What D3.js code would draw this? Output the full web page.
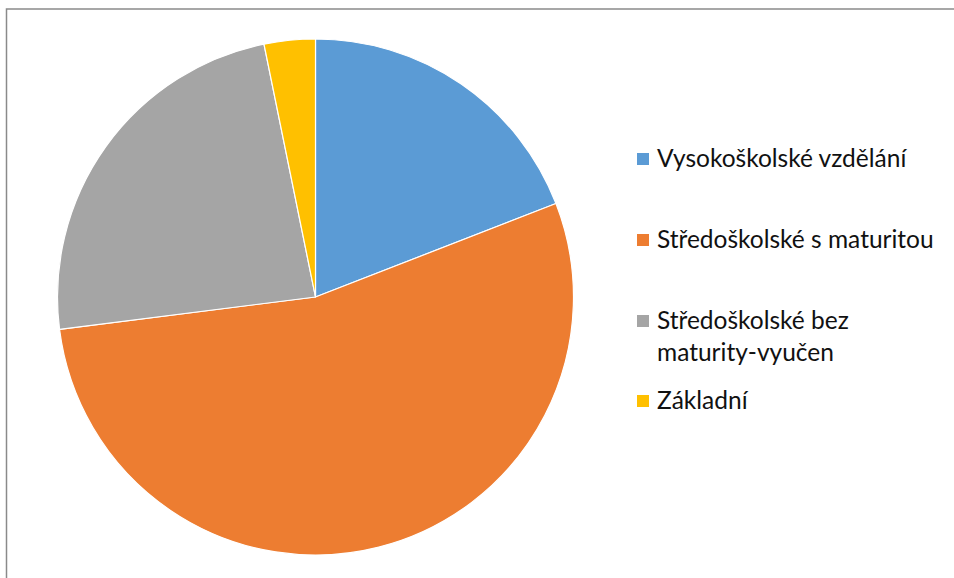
<!DOCTYPE html>
<html>
<head>
<meta charset="utf-8">
<script src="https://cdn.jsdelivr.net/npm/d3@7"></script>
<style>
  html, body { margin: 0; padding: 0; background: #fff; }
  svg { display: block; }
</style>
</head>
<body>
<svg id="chart" width="954" height="578"></svg>
<script>
// Education level shares (%)
const categories = [
  "Vysokoškolské vzdělání",
  "Středoškolské s maturitou",
  "Středoškolské bez maturity-vyučen",
  "Základní"
];
const values = [19.1, 53.9, 23.8, 3.2];
const colors = ["#5B9BD5", "#ED7D31", "#A5A5A5", "#FFC000"];
// Legend text, wrapped into lines
const legendLines = [
  ["Vysokoškolské vzdělání"],
  ["Středoškolské s maturitou"],
  ["Středoškolské bez", "maturity-vyučen"],
  ["Základní"]
];

const svg = d3.select("#chart");

// Chart area frame
svg.append("rect")
  .attr("x", 6.5).attr("y", 9)
  .attr("width", 1200).attr("height", 1200)
  .attr("fill", "none")
  .attr("stroke", "#8a8a8a")
  .attr("stroke-width", 1.5);

const cx = 315.5, cy = 297, r = 258;

const data = categories.map((c, i) => ({ name: c, value: values[i], color: colors[i] }));

const pie = d3.pie().value(d => d.value).sort(null);
const arc = d3.arc().innerRadius(0).outerRadius(r);

svg.append("g")
  .attr("transform", `translate(${cx},${cy})`)
  .selectAll("path")
  .data(pie(data))
  .join("path")
  .attr("d", arc)
  .attr("fill", d => d.data.color)
  .attr("stroke", "#fff")
  .attr("stroke-width", 1.2)
  .attr("stroke-linejoin", "round");

// Legend
const legendCenters = [159, 240, 321, 401];
const lineGap = 32;
const lg = svg.append("g");
data.forEach((d, i) => {
  const yc = legendCenters[i];
  lg.append("rect")
    .attr("x", 637).attr("y", yc - 6)
    .attr("width", 12).attr("height", 12)
    .attr("fill", d.color);
  legendLines[i].forEach((t, j) => {
    lg.append("text")
      .attr("x", 657)
      .attr("y", yc + 8 + j * lineGap)
      .attr("font-family", "Lato, 'Open Sans', sans-serif")
      .attr("font-size", 24.5)
      .attr("fill", "#111")
      .text(t);
  });
});
</script>
</body>
</html>
